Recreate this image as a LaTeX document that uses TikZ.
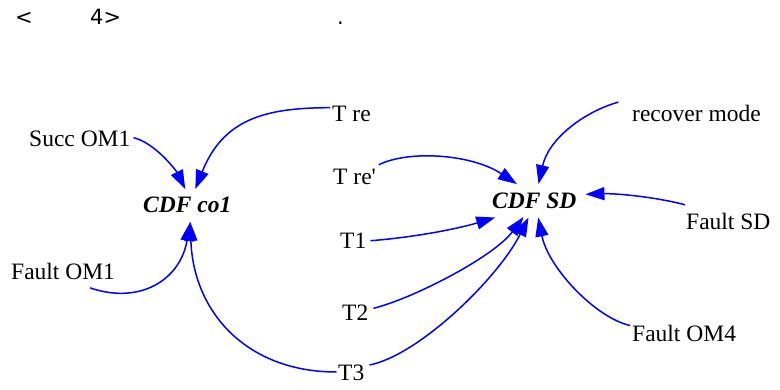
\documentclass[tikz,border=0pt]{standalone}
\usepackage{fontspec}
\setmainfont{Liberation Serif}
\newfontfamily\hdrfont{DejaVu Sans}
\usetikzlibrary{arrows.meta}
\definecolor{arrblue}{RGB}{0,0,255}
\tikzset{
  lbl/.style={inner sep=0pt, anchor=base west, text height=16pt, text depth=0pt,
              font=\fontsize{23.5}{28}\selectfont},
  var/.style={lbl, font=\fontsize{23.5}{28}\selectfont\bfseries\itshape},
  hdr/.style={inner sep=0pt, anchor=base west, font=\hdrfont\fontsize{21}{24}\selectfont},
  conn/.style={draw=arrblue, line width=1.5pt, -{Triangle[length=19pt,width=13pt]}, fill=none},
}
\begin{document}
\begin{tikzpicture}[x=1pt,y=-1pt]
\useasboundingbox (0,0) rectangle (780,389);
% header
\node[hdr] (h1) at (15,24) {<};
\node[hdr] (h2) at (90,24) {4>};
\node[hdr] (h3) at (337,24) {.};
% labels
\node[lbl] (succ) at (29,146.7) {Succ OM1};
\node[lbl] (tre) at (332,121.7) {T re};
\node[var] (co1) at (143,212.7) {CDF co1};
\node[lbl] (fom1) at (11,279.3) {Fault OM1};
\node[lbl] (tre2) at (333,184.3) {T re\textquotesingle};
\node[lbl] (t1) at (340,248) {T1};
\node[lbl] (t2) at (342,320) {T2};
\node[lbl] (t3) at (338,380) {T3};
\node[var] (sd) at (492,208) {CDF SD};
\node[lbl] (rec) at (632,121.7) {recover mode};
\node[lbl] (fsd) at (686,229.3) {Fault SD};
\node[lbl] (fom4) at (632,341.7) {Fault OM4};
% connectors to CDF co1
\draw[conn] ([shift={(3,-1)}]succ.east) .. controls +(21.7,5.3) and +(-9,-18.3) .. ([shift={(-2,-7.4)}]co1.north);
\draw[conn] ([shift={(-2,-6)}]tre.west) .. controls +(-65,0) and +(28,-70) .. ([shift={(8,-7.4)}]co1.north);
\draw[conn] ([shift={(27,8.4)}]fom1.south) .. controls +(50,17) and +(-10,58) .. ([shift={(3,9)}]co1.south);
\draw[conn] ([xshift=-1.5]t3.west) .. controls +(-90,0) and +(3,90) .. ([shift={(3,9)}]co1.south);
% connectors to CDF SD
\draw[conn] ([shift={(2.6,-3.3)}]tre2.north east) .. controls +(30,-15) and +(-45,-30) .. ([shift={(-17.4,-7.7)}]sd.north);
\draw[conn] ([shift={(-13.7,-3.4)}]rec.north west) .. controls +(-35,10) and +(10,-45) .. ([shift={(4.2,-7.7)}]sd.north);
\draw[conn] ([shift={(-1,-8.3)}]fsd.north west) .. controls +(-30,-8) and +(30,-1) .. ([shift={(8.8,-5.7)}]sd.east);
\draw[conn] ([shift={(4,0.7)}]t1.east) .. controls +(40,-3) and +(-40,12) .. ([shift={(-39.1,9.3)}]sd.south);
\draw[conn] ([shift={(5,-3.7)}]t2.east) .. controls +(40,-10) and +(-30,40) .. ([shift={(-10.8,8.7)}]sd.south);
\draw[conn] ([shift={(5,-7)}]t3.east) .. controls +(50,-10) and +(-30,60) .. ([shift={(-5.8,9.3)}]sd.south);
\draw[conn] ([shift={(-2,0)}]fom4.north west) .. controls +(-35,-8) and +(10,50) .. ([shift={(3.9,9.3)}]sd.south);
\end{tikzpicture}
\end{document}
